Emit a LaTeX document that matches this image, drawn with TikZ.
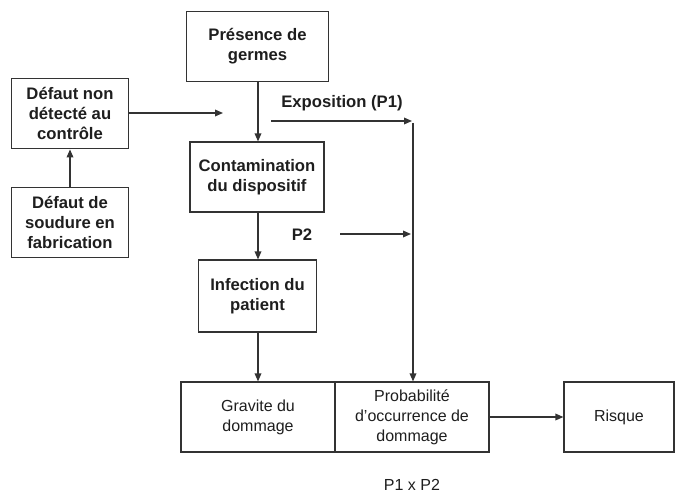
\documentclass[tikz,border=0pt]{standalone}
\usepackage{fontspec}
\setmainfont{Liberation Sans}
\usetikzlibrary{arrows.meta, positioning}
\definecolor{lineg}{HTML}{333333}
\definecolor{txtg}{HTML}{1E1E1E}

\begin{document}
\begin{tikzpicture}[x=0.75pt, y=-0.75pt,
  box/.style={draw=lineg, line width=0.9pt, align=center, inner sep=0pt,
              text=txtg, font=\fontsize{12.5}{15}\selectfont\bfseries},
  plain/.style={box, font=\fontsize{12}{15}\selectfont},
  lbl/.style={text=txtg, font=\fontsize{12.5}{15}\selectfont\bfseries},
  arr/.style={-{Triangle[length=6pt, width=5pt]}, draw=lineg, line width=0.9pt},
]
  \useasboundingbox (0,0) rectangle (675,492);
  \node[box, minimum width=107pt, minimum height=53pt] (germes) at (257.5,46.5) {Présence de\\germes};
  \node[box, minimum width=88pt, minimum height=53pt] (nondet) at (70,113.5) {Défaut non\\détecté au\\contrôle};
  \node[box, minimum width=88pt, minimum height=53pt] (soudure) at (70,222.5) {Défaut de\\soudure en\\fabrication};
  \node[box, minimum width=100.5pt, minimum height=52.5pt] (contam) at (257,177) {Contamination\\du dispositif};
  \node[box, minimum width=89pt, minimum height=54pt] (infect) at (257.5,296) {Infection du\\patient};
  \node[plain, minimum width=115.5pt, minimum height=52.5pt] (gravite) at (258,417) {Gravite du\\dommage};
  \node[plain, minimum width=115.5pt, minimum height=52.5pt] (proba) at (412,417) {Probabilité\\d’occurrence de\\dommage};
  \node[plain, minimum width=82.5pt, minimum height=52.5pt] (risque) at (619,417) {Risque};
  \node[lbl] (expo) at (342,103) {Exposition (P1)};
  \node[lbl] (ptwo) at (302,235) {P2};
  \node[text=txtg, font=\fontsize{12}{15}\selectfont] (prod) at (412,485) {P1 x P2};
  \coordinate (nd) at (223,113);
  \coordinate (expA) at (271,121);
  \coordinate (expB) at (412,121);
  \coordinate (expC) at (413,123);
  \coordinate (pA) at (340,234);
  \coordinate (pB) at (411,234);
  \draw[arr] (soudure) -- (nondet);
  \draw[arr] (nondet.east |- nd) -- (nd);
  \draw[arr] (germes.south -| 258,0) -- (contam.north -| 258,0);
  \draw[arr] (contam.south -| 258,0) -- (infect.north -| 258,0);
  \draw[arr] (infect.south -| 258,0) -- (gravite.north -| 258,0);
  \draw[arr] (expA) -- (expB);
  \draw[arr] (expC) -- (expC |- proba.north);
  \draw[arr] (pA) -- (pB);
  \draw[arr] (proba) -- (risque);
\end{tikzpicture}
\end{document}
